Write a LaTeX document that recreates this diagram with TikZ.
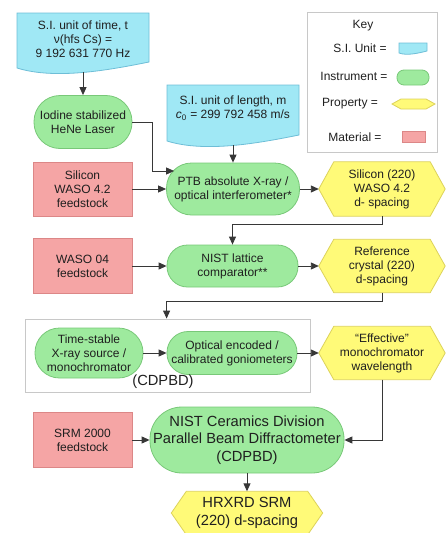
\documentclass[tikz,border=0pt]{standalone}
\usepackage{fontspec}
\setmainfont{Liberation Sans}
\usetikzlibrary{arrows.meta,calc,backgrounds}
\definecolor{cyanf}{RGB}{160,232,245}
\definecolor{cyanb}{RGB}{110,190,215}
\definecolor{grnf}{RGB}{158,234,158}
\definecolor{grnb}{RGB}{120,200,120}
\definecolor{yelf}{RGB}{255,250,120}
\definecolor{yelb}{RGB}{220,210,90}
\definecolor{pnkf}{RGB}{245,165,165}
\definecolor{pnkb}{RGB}{220,135,135}
\definecolor{linec}{RGB}{55,55,55}
\definecolor{framec}{RGB}{200,200,200}
\newcommand\hexnode[6][]{%
  \node[base,minimum width=#4pt,minimum height=#5pt,#1] (#2) at (#3) {#6};
  \begin{scope}[on background layer]
  \path[hexs] (#2.west) -- ($(#2.north west)+(15,0)$) -- ($(#2.north east)+(-15,0)$) -- (#2.east) -- ($(#2.south east)+(-15,0)$) -- ($(#2.south west)+(15,0)$) -- cycle;
  \end{scope}}
\newcommand\docshape[5]{%
  \begin{scope}[on background layer]
  \path[docs] (#2,#4) -- (#3,#4) -- (#3,#5-10) .. controls ({#2+0.7*(#3-#2)},#5-2) and ({#2+0.29*(#3-#2)},#5+8) .. (#2,#5-4) -- cycle;
  \end{scope}
  \coordinate (#1) at ({(#2+#3)/2},#5);}
\begin{document}
\begin{tikzpicture}[x=1pt,y=-1pt,
 base/.style={inner sep=0pt,align=center,text=black!88,font=\fontsize{12}{14}\selectfont},
 big/.style={font=\fontsize{14.7}{17.5}\selectfont},
 inst/.style={base,draw=grnb,fill=grnf,line width=0.8pt,rounded corners=25pt},
 mat/.style={base,draw=pnkb,fill=pnkf,line width=0.8pt},
 hexs/.style={draw=yelb,fill=yelf,line width=0.8pt},
 docs/.style={draw=cyanb,fill=cyanf,line width=0.8pt},
 arr/.style={draw=linec,line width=0.9pt,-{Triangle[length=8pt,width=7pt]}},
 framebox/.style={draw=framec,line width=0.8pt,inner sep=0pt}]
\useasboundingbox (0,0) rectangle (445,533);

% S.I. units
\docshape{timeb}{17}{149}{13}{72}
\node[base] (timet) at (83,39) {S.I. unit of time, t\\ ν(hfs Cs) =\\ 9 192 631 770 Hz};
\docshape{lenb}{167}{299}{85}{145}
\node[base] (lent) at (233,108) {S.I. unit of length, m\\ \textit{c}\textsubscript{0} = 299 792 458 m/s};

% Key
\node[framebox,minimum width=130pt,minimum height=140pt] (key) at (372,82) {};
\node[base] (keyt) at (363,26) {Key};
\node[base] (k1) at (360,48) {S.I. Unit =};
\node[base] (k2) at (354,76) {Instrument =};
\node[base] (k3) at (350,104) {Property =};
\node[base] (k4) at (355,137) {Material =};
\path[docs] (399,43) -- (427,43) -- (427,51) .. controls (419,53) and (407,56) .. (399,53) -- cycle;
\path[draw=grnb,fill=grnf,line width=0.8pt,rounded corners=7pt] (397,70) rectangle (429,85);
\path[hexs] (392,104) -- (401,99) -- (426,99) -- (435,104) -- (426,109) -- (401,109) -- cycle;
\path[draw=pnkb,fill=pnkf,line width=0.8pt] (402,131) rectangle (425,142);

% Row 1
\node[inst,minimum width=98pt,minimum height=53pt,rounded corners=26pt] (iodine) at (83,122) {Iodine stabilized\\HeNe Laser};
\node[mat,minimum width=99pt,minimum height=54pt] (sil) at (82.5,189) {Silicon\\WASO 4.2\\feedstock};
\node[inst,minimum width=133pt,minimum height=52pt] (ptb) at (233,189) {PTB absolute X-ray /\\optical interferometer*};
\hexnode{sih}{382,189}{126}{54}{Silicon (220)\\WASO 4.2\\d- spacing}

% Row 2
\node[mat,minimum width=99pt,minimum height=55pt] (waso) at (82.5,266) {WASO 04\\feedstock};
\node[inst,minimum width=131pt,minimum height=42pt,rounded corners=20.5pt] (nist) at (232.5,266) {NIST lattice\\comparator**};
\hexnode{ref}{382,266}{126}{53}{Reference\\crystal (220)\\d-spacing}

% Row 3 (group)
\node[framebox,minimum width=285pt,minimum height=73pt] (grp) at (167.5,355.5) {};
\node[inst,minimum width=108pt,minimum height=50pt,rounded corners=24.5pt] (tsx) at (89,353) {Time-stable\\X-ray source /\\monochromator};
\node[inst,minimum width=130pt,minimum height=43pt,rounded corners=21pt] (opt) at (232,353) {Optical encoded /\\calibrated goniometers};
\node[base,big] (cdl) at (163,382) {(CDPBD)};
\hexnode{eff}{382,353}{126}{53}{“Effective”\\monochromator\\wavelength}

% Row 4
\node[mat,minimum width=99pt,minimum height=55pt] (srm) at (82.5,440) {SRM 2000\\feedstock};
\node[inst,big,minimum width=194pt,minimum height=66pt,rounded corners=32pt] (ncd) at (247,440) {NIST Ceramics Division\\Parallel Beam Diffractometer\\(CDPBD)};
\hexnode[big]{hrx}{247,513}{151}{43}{HRXRD SRM\\(220) d-spacing}

% Connectors
\draw[arr] (timeb) -- (iodine.north);
\draw[arr] (iodine.east) -- ++(20,0) |- ($(ptb.west)+(8,-18)$);
\draw[arr] (sil.east) -- (ptb.west);
\draw[arr] (lenb) -- (ptb.north);
\draw[arr] (ptb.east) -- (sih.west);
\draw[arr] (sih.south) -- ++(0,8) -| (nist.north);
\draw[arr] (waso.east) -- (nist.west);
\draw[arr] (nist.east) -- (ref.west);
\draw[arr] (ref.south) -- ++(0,9) -| (grp.north -| opt.west);
\draw[arr] (tsx.east) -- (opt.west);
\draw[arr] (opt.east) -- (eff.west);
\draw[arr] (eff.south) |- (ncd.east);
\draw[arr] (srm.east) -- (ncd.west);
\draw[arr] (ncd.south) -- (hrx.north);
\end{tikzpicture}
\end{document}
